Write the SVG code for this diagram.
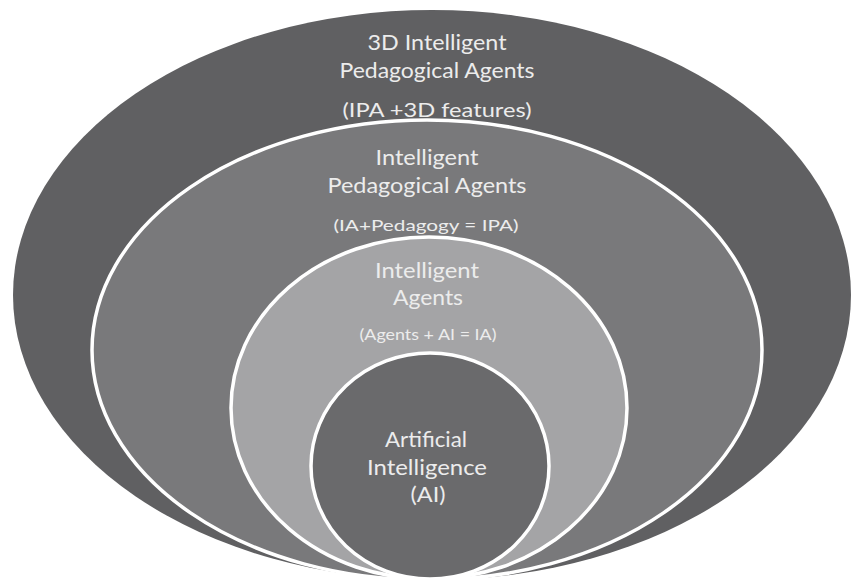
<svg xmlns="http://www.w3.org/2000/svg" width="854" height="581" viewBox="0 0 854 581">
<style>
.ring{stroke:#ffffff;stroke-width:3.5}
.t{font-family:Lato,"Open Sans","Liberation Sans",sans-serif;fill:#ececec;text-anchor:middle}
.big{font-size:21px}
.mid{font-size:19px}
.sm{font-size:16px}
.xs{font-size:15px}
</style>
<rect width="854" height="581" fill="#ffffff"/>
<g id="node-3d-ipa">
<ellipse cx="432" cy="295" rx="419" ry="285" fill="#606062"/>
<text class="t big" x="437" y="50" textLength="139" lengthAdjust="spacingAndGlyphs">3D Intelligent</text>
<text class="t big" x="437" y="78" textLength="195" lengthAdjust="spacingAndGlyphs">Pedagogical Agents</text>
<text class="t mid" x="437" y="117" textLength="189" lengthAdjust="spacingAndGlyphs">(IPA +3D features)</text>
</g>
<g id="node-ipa">
<ellipse class="ring" cx="427" cy="350" rx="335" ry="230" fill="#79797b"/>
<text class="t big" x="427" y="165" textLength="103" lengthAdjust="spacingAndGlyphs">Intelligent</text>
<text class="t big" x="427" y="193" textLength="199" lengthAdjust="spacingAndGlyphs">Pedagogical Agents</text>
<text class="t sm" x="426" y="231" textLength="185" lengthAdjust="spacingAndGlyphs">(IA+Pedagogy = IPA)</text>
</g>
<g id="node-ia">
<ellipse class="ring" cx="429" cy="408" rx="198" ry="171" fill="#a4a4a6"/>
<text class="t big" x="427" y="278" textLength="104" lengthAdjust="spacingAndGlyphs">Intelligent</text>
<text class="t big" x="428" y="305" textLength="70" lengthAdjust="spacingAndGlyphs">Agents</text>
<text class="t xs" x="428" y="340" textLength="137" lengthAdjust="spacingAndGlyphs">(Agents + AI = IA)</text>
</g>
<g id="node-ai">
<ellipse class="ring" cx="430" cy="466" rx="119" ry="113" fill="#6a6a6c"/>
<text class="t big" x="426" y="447" textLength="82" lengthAdjust="spacingAndGlyphs">Artificial</text>
<text class="t big" x="427" y="475" textLength="120" lengthAdjust="spacingAndGlyphs">Intelligence</text>
<text class="t big" x="428" y="502" textLength="35" lengthAdjust="spacingAndGlyphs">(AI)</text>
</g>
<g id="connectors"/>
</svg>
